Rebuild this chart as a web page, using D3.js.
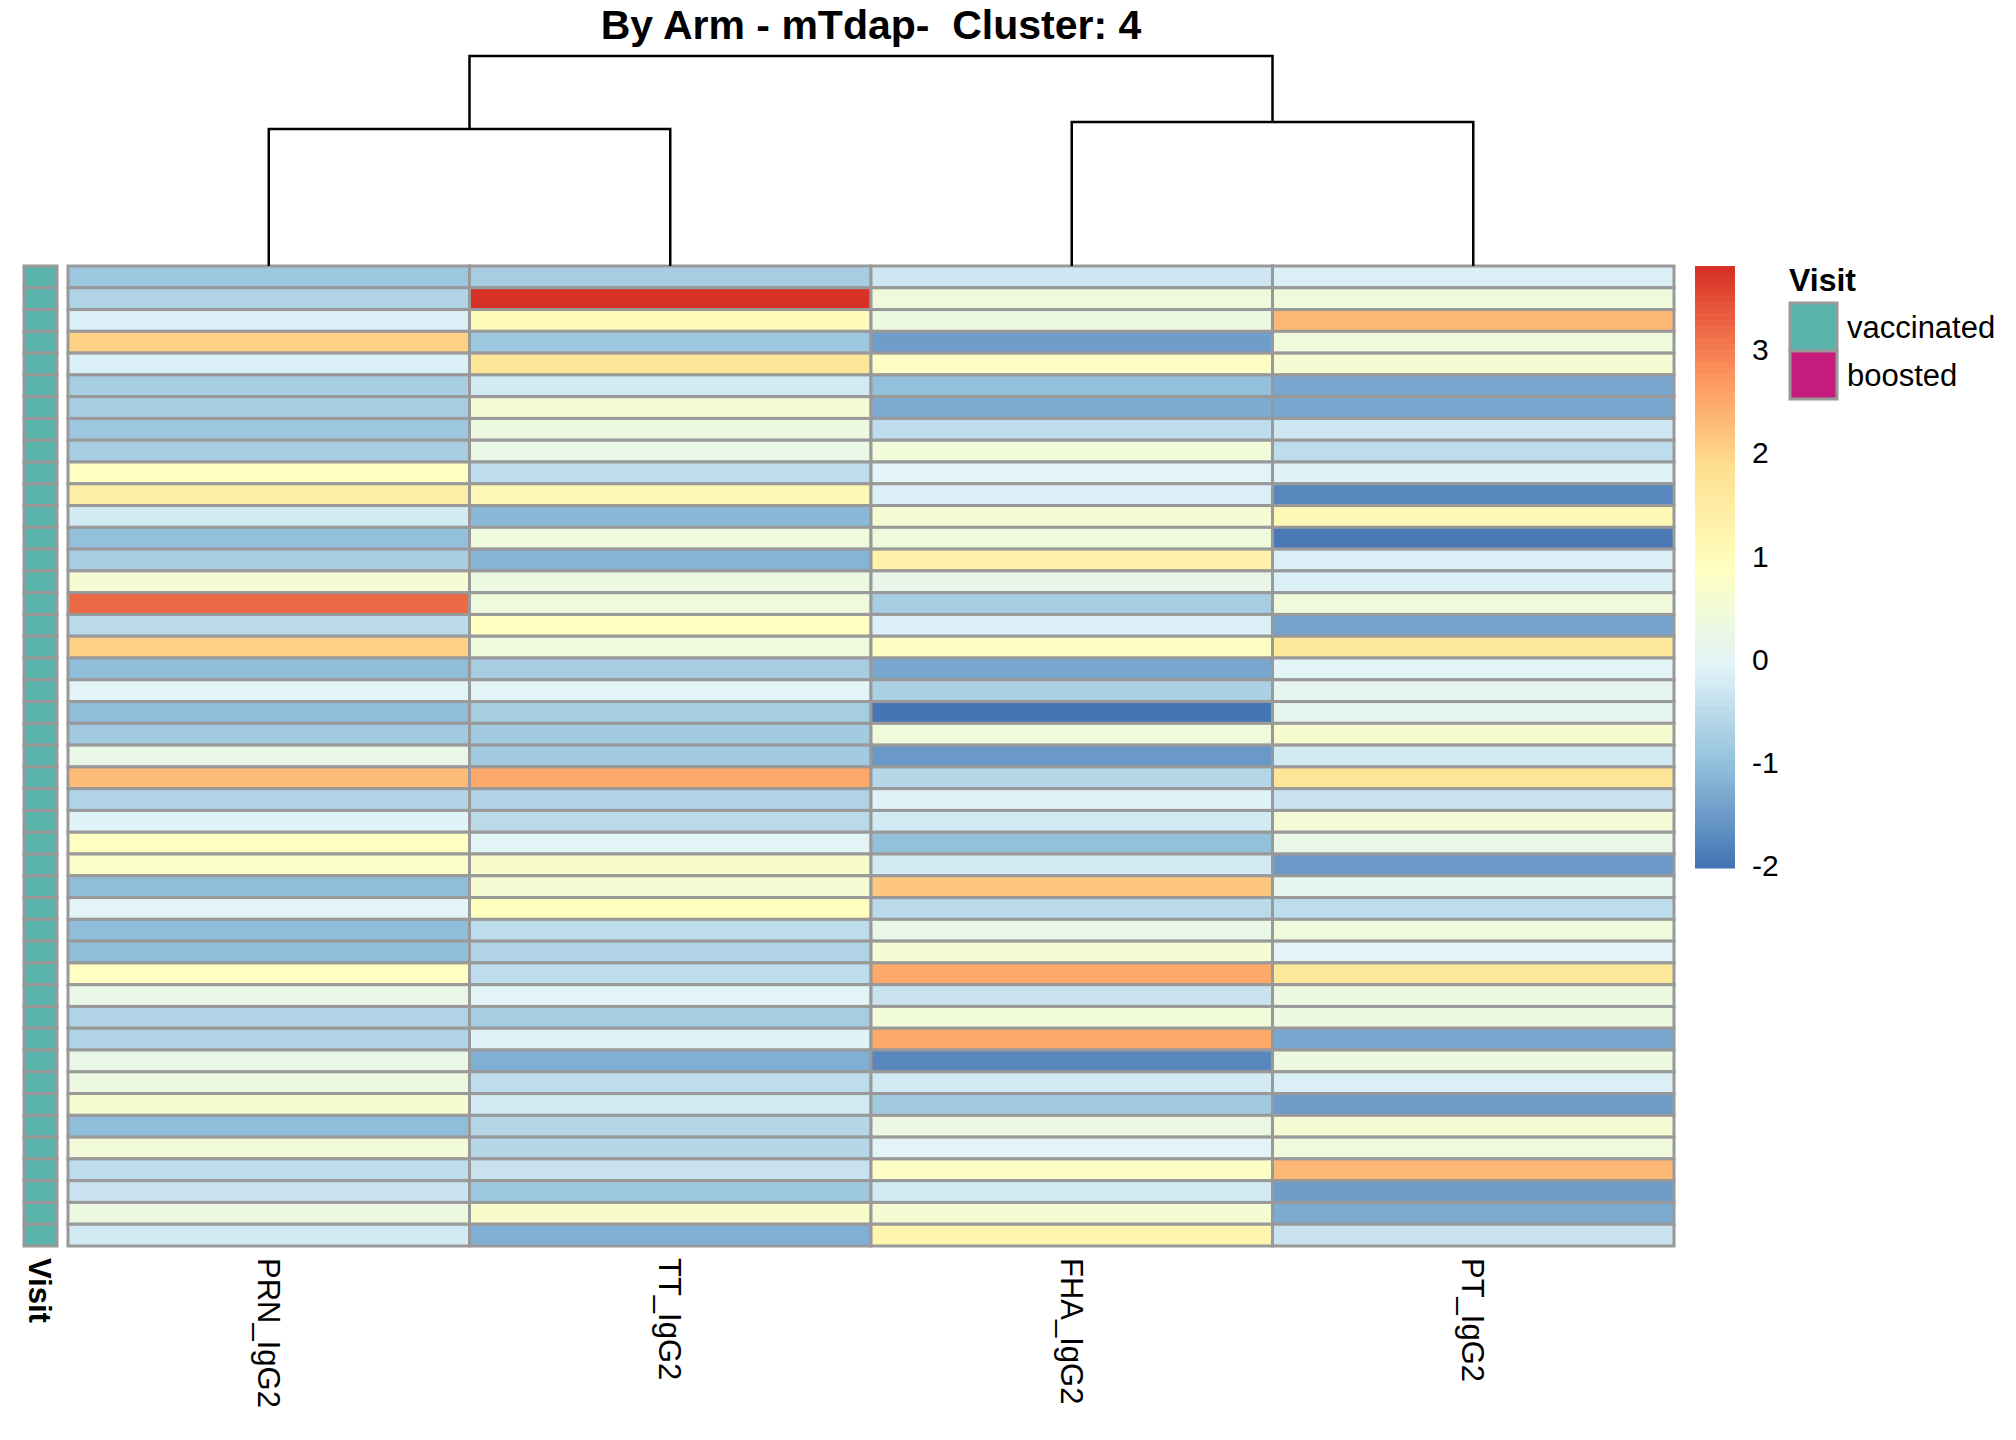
<!DOCTYPE html>
<html>
<head>
<meta charset="utf-8">
<script src="https://cdn.jsdelivr.net/npm/d3@7"></script>
<style>
  body { margin: 0; background: #fff; }
  text { font-family: "Liberation Sans", Arial, sans-serif; }
</style>
</head>
<body>
<div id="plot"></div>
<script>
// Column order (after clustering) and per-row scaled values, top row first
const columns = ["PRN_IgG2", "TT_IgG2", "FHA_IgG2", "PT_IgG2"];

const prn = [-0.88, -0.65, -0.13, 2.05, -0.13, -0.75, -0.75, -0.9, -0.78, 0.88,
  1.45, -0.25, -1.0, -0.75, 0.58, 3.2, -0.55, 2.05, -1.05, 0.02,
  -1.05, -0.8, 0.25, 2.25, -0.65, -0.08, 0.86, 0.75, -1.05, 0.0,
  -1.05, -1.05, 0.87, 0.22, -0.65, -0.65, 0.22, 0.35, 0.65, -1.05,
  0.43, -0.45, -0.33, 0.32, -0.25];
const tt = [-0.75, 3.81, 1.0, -0.9, 1.7, -0.22, 0.6, 0.35, 0.2, -0.5,
  1.1, -1.1, 0.42, -1.17, 0.33, 0.42, 0.88, 0.38, -0.78, 0.02,
  -0.75, -0.8, -0.8, 2.5, -0.65, -0.55, 0.02, 0.72, 0.55, 0.9,
  -0.45, -0.65, -0.48, 0.02, -0.78, -0.08, -1.22, -0.45, -0.25, -0.58,
  -0.58, -0.38, -0.9, 0.68, -1.22];
const fha = [-0.3, 0.4, 0.35, -1.45, 0.8, -1.0, -1.3, -0.5, 0.45, 0.0,
  -0.15, 0.6, 0.42, 1.35, 0.17, -0.78, -0.15, 0.82, -1.33, -0.73,
  -2.02, 0.38, -1.5, -0.62, -0.07, -0.25, -1.0, -0.25, 2.15, -0.55,
  0.22, 0.58, 2.5, -0.35, 0.45, 2.5, -1.76, -0.22, -0.85, 0.28,
  0.0, 0.8, -0.25, 0.58, 1.22];
const pt = [-0.12, 0.4, 2.3, 0.4, 0.6, -1.37, -1.37, -0.3, -0.5, -0.08,
  -1.76, 1.1, -1.93, -0.13, -0.13, 0.42, -1.42, 1.6, 0.02, 0.1,
  0.1, 0.65, -0.22, 1.75, -0.35, 0.5, 0.25, -1.5, 0.12, -0.5,
  0.38, 0.02, 1.6, 0.37, 0.37, -1.33, 0.35, -0.13, -1.45, 0.6,
  0.4, 2.35, -1.45, -1.3, -0.38];

// Row annotation: every sample is "vaccinated" in this cluster
const visit = d3.range(45).map(() => "vaccinated");
const visitLevels = ["vaccinated", "boosted"];
const visitColors = ["#5AB4AC", "#C51B7D"];

// Column dendrogram merges: [left child, right child, height]; leaves are 0..3
const merges = [[0, 1, 4.11], [2, 3, 4.32], [4, 5, 6.3]];

const title = "By Arm - mTdap-  Cluster: 4";

const width = 2016, height = 1440;
const series = [prn, tt, fha, pt];

const svg = d3.select("#plot").append("svg")
    .attr("width", width)
    .attr("height", height);

const x = d3.scaleBand().domain(columns).range([68, 1674]);
const y = d3.scaleBand().domain(d3.range(prn.length)).range([266, 1246]);

// pheatmap default palette: rev(RdYlBu 7) ramped to 100 colours
const ramp = d3.piecewise(d3.interpolateRgb,
    ["#4575B4", "#91BFDB", "#E0F3F8", "#FFFFBF", "#FEE090", "#FC8D59", "#D73027"]);
const palette = d3.range(100).map(i => ramp(i / 99));
const extent = d3.extent(series.flat());
const color = d3.scaleQuantize().domain(extent).range(palette);

// Heatmap cells
const cells = [];
series.forEach((vals, c) => vals.forEach((v, r) => cells.push({ col: columns[c], row: r, v })));

svg.append("g").selectAll("rect")
    .data(cells)
    .enter().append("rect")
    .attr("x", d => x(d.col))
    .attr("y", d => y(d.row))
    .attr("width", x.bandwidth())
    .attr("height", y.bandwidth())
    .attr("fill", d => color(d.v))
    .attr("stroke", "#999999")
    .attr("stroke-width", 3);

// Annotation column
const visitColor = d3.scaleOrdinal().domain(visitLevels).range(visitColors);
svg.append("g").selectAll("rect")
    .data(visit)
    .enter().append("rect")
    .attr("x", 24)
    .attr("y", (d, i) => y(i))
    .attr("width", 33)
    .attr("height", y.bandwidth())
    .attr("fill", d => visitColor(d))
    .attr("stroke", "#999999")
    .attr("stroke-width", 3);

// Dendrogram
const h = d3.scaleLinear().domain([0, 6.3]).range([266, 56]);
const nodes = columns.map(c => ({ x: x(c) + x.bandwidth() / 2, h: 0 }));
const dendro = svg.append("g")
    .attr("fill", "none")
    .attr("stroke", "#000")
    .attr("stroke-width", 2.5);
merges.forEach(([a, b, mh]) => {
    const na = nodes[a], nb = nodes[b];
    dendro.append("path")
        .attr("d", `M${na.x},${h(na.h)}V${h(mh)}H${nb.x}V${h(nb.h)}`);
    nodes.push({ x: (na.x + nb.x) / 2, h: mh });
});

// Title
svg.append("text")
    .attr("x", (x.range()[0] + x.range()[1]) / 2)
    .attr("y", 39)
    .attr("text-anchor", "middle")
    .style("white-space", "pre")
    .style("font-size", "41px")
    .style("font-weight", "bold")
    .text(title);

// Column labels
svg.append("g").selectAll("text")
    .data(columns)
    .enter().append("text")
    .attr("transform", d => `translate(${x(d) + x.bandwidth() / 2},1258) rotate(90)`)
    .attr("dy", "0.35em")
    .style("font-size", "31px")
    .text(d => d);

// Annotation name
svg.append("text")
    .attr("transform", "translate(40,1258) rotate(90)")
    .attr("dy", "0.35em")
    .style("font-size", "31px")
    .style("font-weight", "bold")
    .text("Visit");

// Colour legend
const legendY = d3.scaleLinear().domain(extent).range([868, 266]);
const step = (extent[1] - extent[0]) / palette.length;
svg.append("g").selectAll("rect")
    .data(palette)
    .enter().append("rect")
    .attr("x", 1695)
    .attr("y", (d, i) => legendY(extent[0] + (i + 1) * step))
    .attr("width", 40)
    .attr("height", (d, i) => legendY(extent[0] + i * step) - legendY(extent[0] + (i + 1) * step) + 0.5)
    .attr("fill", d => d);

svg.append("g").selectAll("text")
    .data(legendY.ticks(6))
    .enter().append("text")
    .attr("x", 1752)
    .attr("y", d => legendY(d))
    .attr("dy", "0.35em")
    .style("font-size", "30px")
    .text(d => d);

// Visit legend
svg.append("text")
    .attr("x", 1789)
    .attr("y", 291)
    .style("font-size", "32px")
    .style("font-weight", "bold")
    .text("Visit");

const lg = svg.append("g").selectAll("g")
    .data(visitLevels)
    .enter().append("g")
    .attr("transform", (d, i) => `translate(1790,${303 + i * 48})`);
lg.append("rect")
    .attr("width", 47)
    .attr("height", 48)
    .attr("fill", d => visitColor(d))
    .attr("stroke", "#999999")
    .attr("stroke-width", 3);
lg.append("text")
    .attr("x", 57)
    .attr("y", 24)
    .attr("dy", "0.35em")
    .style("font-size", "31px")
    .text(d => d);
</script>
</body>
</html>
